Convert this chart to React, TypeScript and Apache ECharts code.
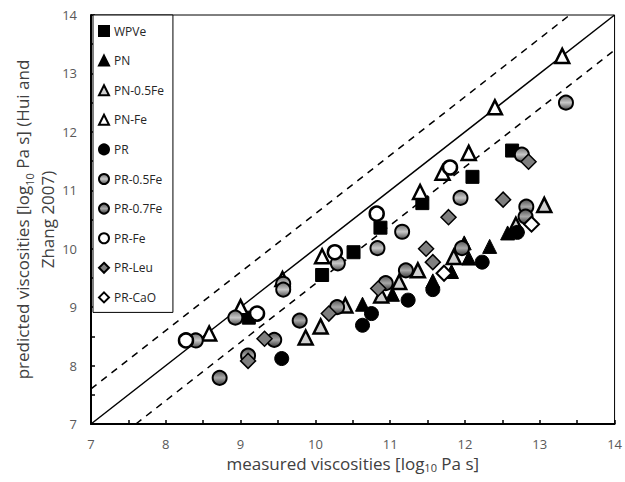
import React, { useEffect, useRef } from 'react';
import * as echarts from 'echarts';

// ---- data (measured, predicted) in log10 Pa s ----
const seriesNames = ['WPVe', 'PN', 'PN-0.5Fe', 'PN-Fe', 'PR', 'PR-0.5Fe', 'PR-0.7Fe', 'PR-Fe', 'PR-Leu', 'PR-CaO'];

const wpve = [[9.11, 8.82], [10.09, 9.55], [10.51, 9.94], [10.87, 10.36], [11.43, 10.78], [12.1, 11.23], [12.63, 11.68]];
const pn = [[10.63, 9.05], [11.03, 9.22], [11.57, 9.45], [11.82, 9.61], [12.05, 9.84], [12.33, 10.04], [12.57, 10.27], [12.65, 10.33], [11.99, 10.1]];
const pn05fe = [[9.87, 8.48], [10.07, 8.67], [10.4, 9.03], [10.88, 9.2], [11.12, 9.43], [11.37, 9.63], [11.85, 9.86], [12.68, 10.41], [13.06, 10.75]];
const pnFe = [[8.58, 8.55], [9.0, 9.0], [9.56, 9.48], [10.09, 9.87], [11.4, 10.97], [11.7, 11.3], [12.05, 11.64], [12.4, 12.42], [13.3, 13.3]];
const pr = [[9.55, 8.12], [10.63, 8.69], [10.75, 8.89], [11.24, 9.12], [11.57, 9.3], [12.23, 9.77], [12.7, 10.28]];
const pr05fe = [[8.4, 8.43], [8.93, 8.82], [9.57, 9.4], [9.57, 9.3], [10.3, 9.75], [10.83, 10.01], [11.16, 10.29], [11.94, 10.87], [12.76, 11.61], [13.35, 12.5]];
const pr07fe = [[8.72, 7.79], [9.1, 8.17], [9.45, 8.44], [9.79, 8.77], [10.29, 9.0], [10.94, 9.41], [11.21, 9.63], [11.96, 10.01], [12.82, 10.72], [12.81, 10.55]];
const prFe = [[8.27, 8.43], [9.22, 8.89], [10.26, 9.94], [10.82, 10.6], [11.8, 11.39]];
const prLeu = [[9.1, 8.08], [9.32, 8.46], [10.18, 8.89], [10.84, 9.32], [11.48, 10.0], [11.57, 9.77], [11.78, 10.54], [12.51, 10.84], [12.85, 11.49]];
const prCaO = [[11.72, 9.58], [12.89, 10.42]];

const oneToOne = [[7, 7], [14, 14]];
const upperBound = [[7, 7.6], [13.4, 14]];
const lowerBound = [[7.6, 7], [14, 13.4]];

const axisMin = 7;
const axisMax = 14;

const grayGrad = (c1: string, c2: string, c3: string) =>
  new echarts.graphic.LinearGradient(0, 0, 0, 1, [
    { offset: 0, color: c1 },
    { offset: 0.5, color: c2 },
    { offset: 1, color: c3 },
  ]);

export default function App() {
  const ref = useRef<HTMLDivElement>(null);
  useEffect(() => {
    if (!ref.current) return;
    const chart = echarts.init(ref.current, null, { renderer: 'svg' });
    const font = 'Open Sans';
    const mk = (name: string, data: number[][], symbol: string, size: number, color: any, border = '#000', bw = 1.5) => ({
      name,
      type: 'scatter',
      data,
      symbol,
      symbolSize: size,
      itemStyle: { color, borderColor: border, borderWidth: bw, opacity: 1 },
      z: 3,
    });
    const lineS = (data: number[][], dashed: boolean) => ({
      type: 'line',
      data,
      symbol: 'none',
      silent: true,
      lineStyle: { color: '#000', width: 1.5, type: dashed ? [7, 6] : 'solid' },
      z: 2,
    });
    const labelFmt = (v: number) => (Math.abs(v - Math.round(v)) < 1e-6 ? String(Math.round(v)) : '');
    const axisCommon = {
      type: 'value',
      min: axisMin,
      max: axisMax,
      interval: 0.5,
      splitLine: { show: false },
      axisLine: { show: true, lineStyle: { color: '#000', width: 2 } },
      axisTick: { show: true, inside: true, length: 4, lineStyle: { color: '#000', width: 1.5 } },
      nameLocation: 'middle',
      nameMoveOverlap: false,
    };
    chart.setOption({
      animation: false,
      backgroundColor: '#fff',
      grid: { left: 91, right: 4, top: 15, bottom: 58, show: true, borderColor: '#000', borderWidth: 1 },
      legend: {
        orient: 'vertical',
        left: 93,
        top: 15,
        data: seriesNames,
        itemWidth: 10,
        itemHeight: 10,
        itemGap: 17.6,
        padding: [10, 9, 9, 5],
        backgroundColor: '#fff',
        borderColor: '#000',
        borderWidth: 1,
        borderRadius: 0,
        textStyle: { fontFamily: font, fontSize: 12, color: '#262626', padding: [0, 0, 0, 0] },
      },
      xAxis: {
        ...axisCommon,
        axisLabel: { formatter: labelFmt, fontFamily: font, fontSize: 13, color: '#595959', margin: 13 },
        name: '{a|measured viscosities [log}{s|10}{a| Pa s]}',
        nameGap: 30,
        nameTextStyle: {
          rich: {
            a: { fontFamily: font, fontSize: 17, color: '#404040' },
            s: { fontFamily: font, fontSize: 11, color: '#404040', verticalAlign: 'bottom', padding: [8, 0, 0, 0] },
          },
        },
      },
      yAxis: {
        ...axisCommon,
        axisLabel: { formatter: labelFmt, fontFamily: font, fontSize: 13, color: '#595959', margin: 14 },
        name: '{a|predicted viscosities [log}{s|10}{a| Pa s] (Hui and}\n{a|Zhang 2007)}',
        nameGap: 31,
        nameRotate: 90,
        nameTextStyle: {
          align: 'center',
          rich: {
            a: { fontFamily: font, fontSize: 17, color: '#404040', lineHeight: 25 },
            s: { fontFamily: font, fontSize: 11, color: '#404040', lineHeight: 25, verticalAlign: 'bottom', padding: [8, 0, 0, 0] },
          },
        },
      },
      series: [
        lineS(oneToOne, false),
        lineS(upperBound, true),
        lineS(lowerBound, true),
        mk('WPVe', wpve, 'rect', 13, '#000', '#000', 1),
        mk('PN', pn, 'triangle', 14, '#000', '#000', 1),
        mk('PN-0.5Fe', pn05fe, 'triangle', 14, '#d0d0d0', '#000', 2.5),
        mk('PN-Fe', pnFe, 'triangle', 14, '#fff', '#000', 2.5),
        mk('PR', pr, 'circle', 14, '#000', '#000', 1),
        mk('PR-0.5Fe', pr05fe, 'circle', 14, grayGrad('#707070', '#c8c8c8', '#505050'), '#000', 2),
        mk('PR-0.7Fe', pr07fe, 'circle', 14, grayGrad('#555555', '#a8a8a8', '#3a3a3a'), '#000', 2),
        mk('PR-Fe', prFe, 'circle', 14, '#fff', '#000', 2.5),
        mk('PR-Leu', prLeu, 'diamond', 15, '#7f7f7f', '#000', 1.5),
        mk('PR-CaO', prCaO, 'diamond', 15, '#fff', '#000', 2),
      ],
    });
    return () => chart.dispose();
  }, []);
  return <div ref={ref} style={{ position: 'fixed', left: 0, top: 0, width: 625, height: 482 }} />;
}
